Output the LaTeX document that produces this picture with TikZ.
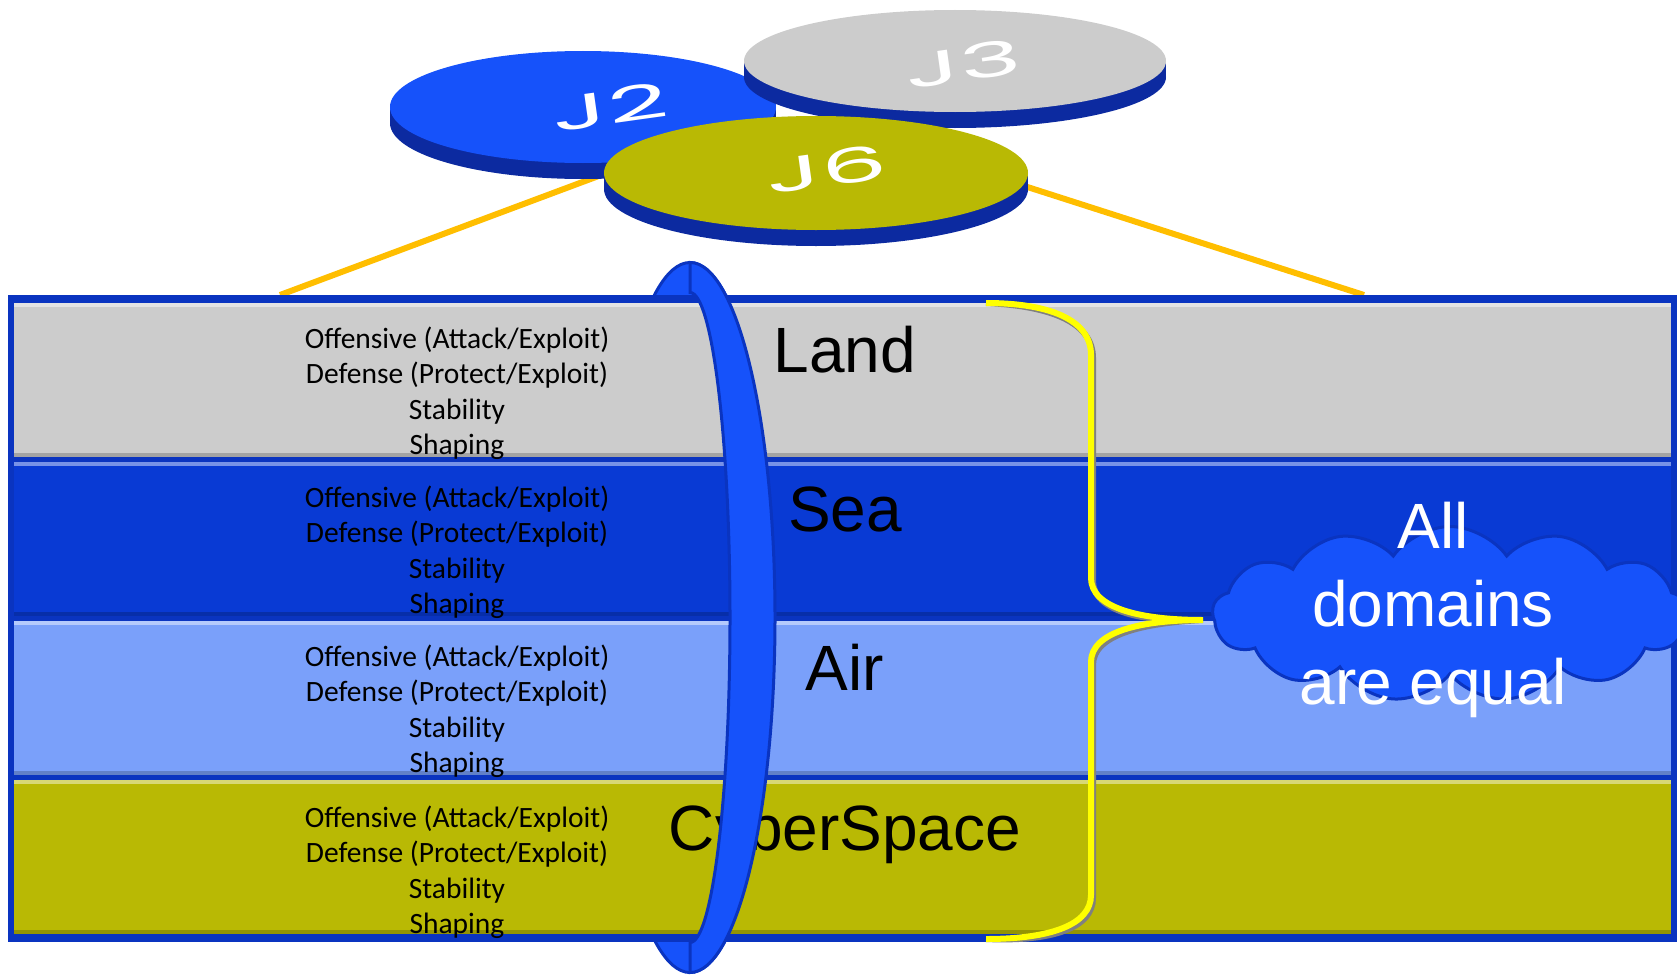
\documentclass[tikz,border=0pt]{standalone}
\usepackage{fontspec}
\setmainfont{Liberation Sans}
\newfontfamily\calibri{Carlito}
\newfontfamily\jfont{Poppins}
\usetikzlibrary{positioning,shapes.geometric,shapes.symbols}

\definecolor{landgray}{RGB}{204,204,204}
\definecolor{seablue}{RGB}{9,58,212}
\definecolor{airblue}{RGB}{122,160,250}
\definecolor{cyberolive}{RGB}{185,185,4}
\definecolor{jblue}{RGB}{22,82,250}
\definecolor{frameblue}{RGB}{10,52,192}
\definecolor{rimblue}{RGB}{12,42,160}
\definecolor{linkorange}{RGB}{255,190,0}
\definecolor{braceyellow}{RGB}{255,255,0}

\begin{document}
\begin{tikzpicture}[x=1pt,y=-1pt,
    band/.style={minimum width=1657pt,minimum height=154pt,inner sep=0pt,outer sep=0pt,
      path picture={\fill[white,opacity=.45] (path picture bounding box.north west) rectangle ([yshift=-4pt]path picture bounding box.north east);
                    \fill[black,opacity=.2] (path picture bounding box.south west) rectangle ([yshift=4pt]path picture bounding box.south east);}},
    tasks/.style={font=\calibri\fontsize{29.5}{35.5}\selectfont,align=center,inner sep=0pt},
    domainlabel/.style={font=\fontsize{64}{70}\selectfont,anchor=base,inner sep=0pt},
    jdisk/.style={ellipse,inner sep=0pt},
    jlabel/.style={font=\jfont\fontsize{60}{60}\selectfont,text=white,rotate=8,xscale=1.75,yscale=.8},
    ring/.style={fill=jblue,draw=frameblue,line width=3pt},
    link/.style={linkorange,line width=6pt},
    bracepath/.style={braceyellow,line width=6pt},
    cloudtext/.style={font=\fontsize{64}{78}\selectfont,text=white,align=center}]
  \useasboundingbox (0,0) rectangle (1677,974);
  \clip (0,0) rectangle (1677,974);

  \coordinate (LinkLeft)  at (280,295);
  \coordinate (LinkRight) at (1364,295);
  \coordinate (J2foot)    at (620,168);
  \coordinate (J6foot)    at (990,175);
  \draw[link] (J2foot) -- (LinkLeft);
  \draw[link] (J6foot) -- (LinkRight);

  \fill[rimblue] (583,123) ellipse[x radius=193,y radius=56];
  \fill[rimblue] (390,107) rectangle (776,123);
  \node[jdisk,fill=jblue,minimum width=386pt,minimum height=112pt] (J2) at (583,107) {};
  \node[jlabel] at (610,107) {J2};

  \fill[rimblue] (955,77) ellipse[x radius=211,y radius=51];
  \fill[rimblue] (744,61) rectangle (1166,77);
  \node[jdisk,fill=landgray,minimum width=422pt,minimum height=102pt] (J3) at (955,61) {};
  \node[jlabel] at (963,64) {J3};

  \fill[rimblue] (816,189) ellipse[x radius=212,y radius=57];
  \fill[rimblue] (604,173) rectangle (1028,189);
  \node[jdisk,fill=cyberolive,minimum width=424pt,minimum height=114pt] (J6) at (816,173) {};
  \node[jlabel] at (827,169) {J6};

  \filldraw[ring] (690,617.5) ellipse[x radius=85,y radius=355];

  \fill[frameblue] (8,295) rectangle (1677,942);
  \node[band,fill=landgray]             (Land)  at (842.5,380) {};
  \node[band,fill=seablue,below=5pt of Land]  (Sea)   {};
  \node[band,fill=airblue,below=5pt of Sea]   (Air)   {};
  \node[band,fill=cyberolive,below=5pt of Air] (Cyber) {};

  \node[tasks] at (457,393) {Offensive (Attack/Exploit)\\Defense (Protect/Exploit)\\Stability\\Shaping};
  \node[tasks] at (457,552) {Offensive (Attack/Exploit)\\Defense (Protect/Exploit)\\Stability\\Shaping};
  \node[tasks] at (457,711) {Offensive (Attack/Exploit)\\Defense (Protect/Exploit)\\Stability\\Shaping};
  \node[tasks] at (457,872) {Offensive (Attack/Exploit)\\Defense (Protect/Exploit)\\Stability\\Shaping};
  \node[domainlabel] at (845,372) {Land};
  \node[domainlabel] at (845,531) {Sea};
  \node[domainlabel] at (845,690) {Air};
  \node[domainlabel] at (845,850) {CyberSpace};

  \filldraw[ring] (690,262.5) arc[start angle=-90,end angle=90,x radius=85,y radius=355]
                  -- (690,942.5) arc[start angle=90,end angle=-90,x radius=40,y radius=325] -- cycle;

  \coordinate (BraceTop) at (986,303);
  \coordinate (BraceTip) at (1203,620);
  \coordinate (BraceBot) at (986,939);
  \draw[bracepath,gray,xshift=2pt,yshift=-3pt] (BraceTop) .. controls (1050,303) and (1091,320) .. (1091,355) -- (1091,578)
        .. controls (1091,608) and (1140,620) .. (BraceTip) .. controls (1140,620) and (1091,632) .. (1091,662)
        -- (1091,895) .. controls (1091,925) and (1050,939) .. (BraceBot);
  \draw[bracepath] (BraceTop) .. controls (1050,303) and (1091,320) .. (1091,355) -- (1091,578)
        .. controls (1091,608) and (1140,620) .. (BraceTip) .. controls (1140,620) and (1091,632) .. (1091,662)
        -- (1091,895) .. controls (1091,925) and (1050,939) .. (BraceBot);

  \node[cloud,cloud puffs=13,cloud puff arc=110,cloud ignores aspect,minimum width=475pt,minimum height=175pt,fill=jblue,draw=frameblue,line width=3pt] (Equal) at (1450,614) {};
  \node[cloudtext] at ([xshift=-17pt,yshift=4pt]Equal.center) {All\\domains\\are equal};
\end{tikzpicture}
\end{document}
